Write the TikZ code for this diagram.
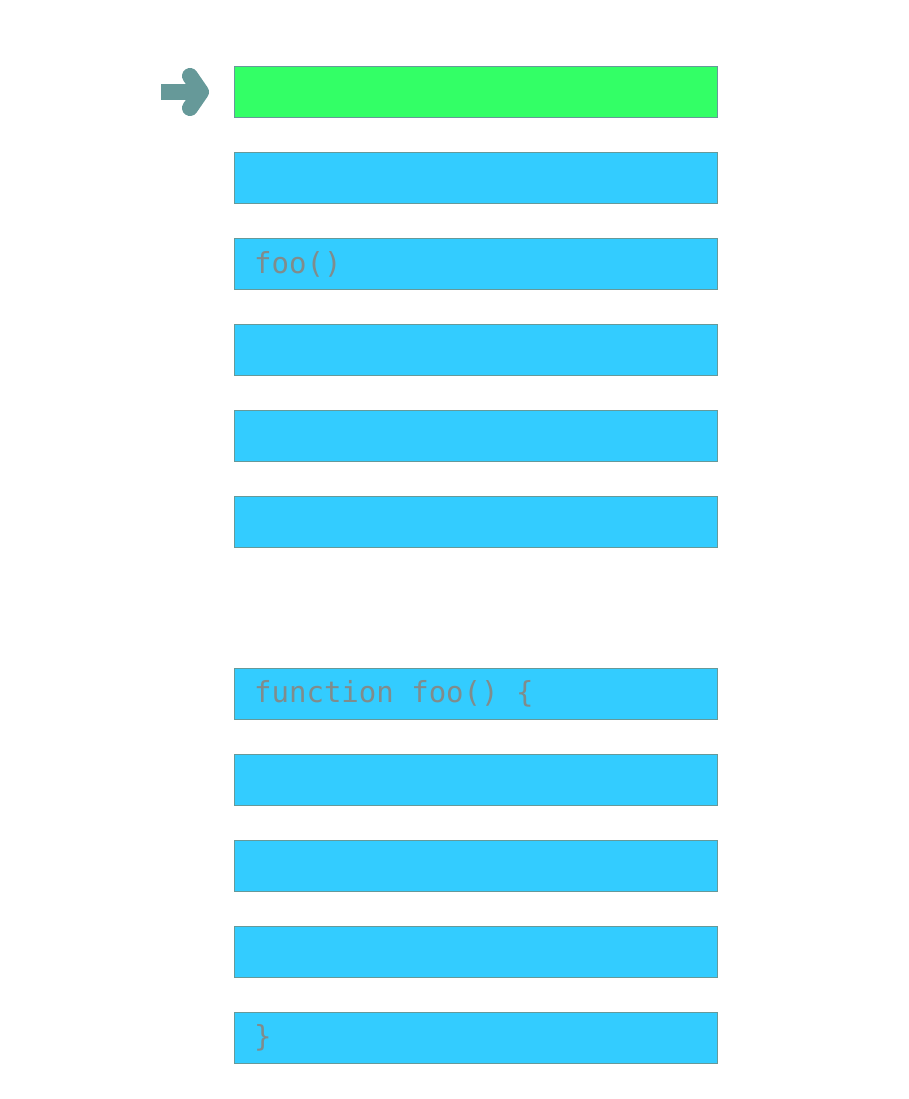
\documentclass[tikz,border=0pt]{standalone}
\usepackage{fontspec}
\setmonofont{DejaVu Sans Mono}
\usepackage{xcolor}
\usetikzlibrary{positioning}
\definecolor{linegreen}{RGB}{51,255,102}
\definecolor{lineblue}{RGB}{51,204,255}
\definecolor{lineedge}{RGB}{102,153,153}
\definecolor{codegray}{RGB}{128,140,140}
\tikzset{
  codeline/.style={draw=lineedge, line width=0.8pt, minimum width=483pt, minimum height=51pt, inner sep=0pt, anchor=north west},
  codetext/.style={text=codegray, font=\ttfamily\fontsize{29}{30}\selectfont, inner sep=0pt},
  pointer/.style={draw=lineedge, line width=16pt}
}
\begin{document}
\begin{tikzpicture}[x=1pt,y=-1pt]
    \useasboundingbox (0,0) rectangle (908,1099);
    % first block
    \node [codeline, fill=linegreen] (l1) at (234,66) {};
    \node [codeline, fill=lineblue] (l2) at (234,152) {};
    \node [codeline, fill=lineblue] (l3) at (234,238) {};
    \node [codeline, fill=lineblue] (l4) at (234,324) {};
    \node [codeline, fill=lineblue] (l5) at (234,410) {};
    \node [codeline, fill=lineblue] (l6) at (234,496) {};
    \node [codetext, right=20pt of l3.west] (call) {foo()};
    % second block
    \node [codeline, fill=lineblue] (f1) at (234,668) {};
    \node [codeline, fill=lineblue] (f2) at (234,754) {};
    \node [codeline, fill=lineblue] (f3) at (234,840) {};
    \node [codeline, fill=lineblue] (f4) at (234,926) {};
    \node [codeline, fill=lineblue] (f5) at (234,1012) {};
    \node [codetext, right=20pt of f1.west] (head) {function foo() \{};
    \node [codetext, right=20pt of f5.west] (tail) {\}};
    % arrow
    \coordinate (tail) at (161,92);
    \coordinate (tip) at (201,92);
    \draw [pointer] (tail) -- (tip);
    \draw [pointer, line cap=round, line join=round] ([shift={(-11,-16)}]tip) -- (tip) -- ([shift={(-11,16)}]tip);
\end{tikzpicture}
\end{document}
